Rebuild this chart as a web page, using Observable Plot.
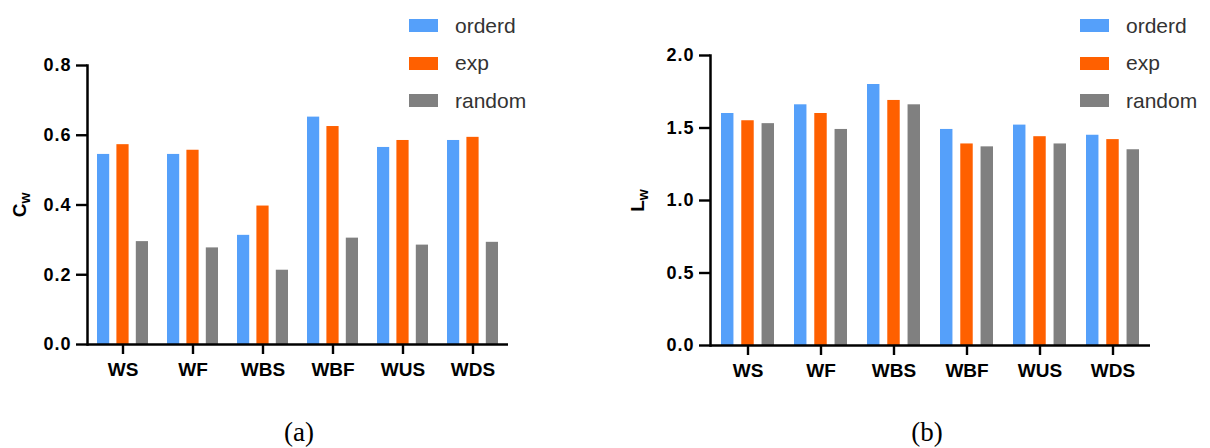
<!DOCTYPE html>
<html><head><meta charset="utf-8">
<script src="https://cdn.jsdelivr.net/npm/d3@7"></script>
<script src="https://cdn.jsdelivr.net/npm/@observablehq/plot@0.6"></script>
<style>
html,body{margin:0;padding:0;background:#fff;}
#root{position:relative;width:1210px;height:448px;overflow:hidden;font-family:"Liberation Sans",Arial,sans-serif;}
.panel{position:absolute;top:0;}
.row{position:absolute;display:flex;align-items:center;white-space:nowrap;height:26px;}
.sw{width:29px;height:13px;}
.lab{font-size:21px;color:#333;margin-left:17px;line-height:26px;}
.cap{position:absolute;font-family:"Liberation Serif","Times New Roman",serif;font-size:27px;line-height:27px;color:#000;transform:translateX(-50%);top:419px;}
.panel svg g[aria-label="y-axis tick label"] text{letter-spacing:1px;}
</style>
</head><body>
<div id="root"></div>
<script>
// ---- data ----
const categories = ["WS","WF","WBS","WBF","WUS","WDS"];
const seriesNames = ["orderd","exp","random"];
const seriesColors = ["#55a0fa","#ff6000","#808080"];
const cwOrderd = [0.545,0.545,0.313,0.652,0.565,0.585];
const cwExp    = [0.573,0.557,0.397,0.625,0.585,0.594];
const cwRandom = [0.295,0.277,0.213,0.305,0.285,0.293];
const lwOrderd = [1.60,1.66,1.80,1.49,1.52,1.45];
const lwExp    = [1.55,1.60,1.69,1.39,1.44,1.42];
const lwRandom = [1.53,1.49,1.66,1.37,1.39,1.35];
const cwTicks = [0,0.2,0.4,0.6,0.8];
const lwTicks = [0,0.5,1.0,1.5,2.0];
const captions = ["(a)","(b)"];

const root = document.getElementById("root");

function chart({values, ticks, domain, labelMain, labelSub, width, height, marginLeft, marginRight, marginTop, marginBottom, labelDx}) {
  const pad = 0.27;
  const step = (width - marginLeft - marginRight) / categories.length;
  const bw = step * (1 - pad);
  const inner = d3.scaleBand().domain(seriesNames).range([0, bw]).paddingInner(0.36);
  const bars = seriesNames.map((s, i) => {
    const data = categories.map((c, j) => ({category: c, value: values[i][j]}));
    const x0 = inner(s);
    return Plot.barY(data, {x: "category", y: "value", fill: seriesColors[i],
      insetLeft: x0, insetRight: bw - x0 - inner.bandwidth()});
  });
  const svg = Plot.plot({
    width, height, marginLeft, marginRight, marginTop, marginBottom,
    style: {fontFamily: "'Liberation Sans', Arial, sans-serif", color: "#000", background: "transparent"},
    x: {domain: categories, paddingInner: pad, paddingOuter: pad / 2, label: null},
    y: {domain, label: null},
    marks: [
      ...bars,
      Plot.axisX({tickSize: 10, tickPadding: 8, fontSize: 19, fontWeight: "bold", stroke: "#000", strokeWidth: 2.4, label: null}),
      Plot.axisY({ticks, tickFormat: d3.format(".1f"), tickSize: 11, tickPadding: 5, stroke: "#000", strokeWidth: 2.4,
        fontSize: 18, fontWeight: "bold", label: null}),
      Plot.ruleY([0], {strokeWidth: 2.5}),
      Plot.frame({anchor: "left", strokeWidth: 2.5}),
      Plot.text([labelMain + labelSub], {frameAnchor: "left", rotate: -90, dx: labelDx,
        fontSize: 19, fontWeight: "bold", textAnchor: "middle", lineAnchor: "middle"})
    ]
  });
  svg.querySelectorAll("text").forEach(t => {
    if (t.textContent === labelMain + labelSub) {
      t.textContent = labelMain;
      const ts = document.createElementNS("http://www.w3.org/2000/svg", "tspan");
      ts.setAttribute("dy", "0.35em");
      ts.setAttribute("font-size", "14");
      ts.textContent = labelSub;
      t.appendChild(ts);
    }
  });
  return svg;
}

function addPanel(left, svg) {
  const d = document.createElement("div");
  d.className = "panel";
  d.style.left = left + "px";
  d.appendChild(svg);
  root.appendChild(d);
}

function addLegend(left) {
  const centers = [25.5, 63, 100.5];
  seriesNames.forEach((s, i) => {
    const row = document.createElement("div");
    row.className = "row";
    row.style.left = left + "px";
    row.style.top = (centers[i] - 13) + "px";
    const sw = document.createElement("div");
    sw.className = "sw";
    sw.style.background = seriesColors[i];
    const lab = document.createElement("span");
    lab.className = "lab";
    lab.textContent = s;
    row.appendChild(sw); row.appendChild(lab);
    root.appendChild(row);
  });
}

function addCaption(cx, text) {
  const c = document.createElement("div");
  c.className = "cap";
  c.style.left = cx + "px";
  c.textContent = text;
  root.appendChild(c);
}

addPanel(0, chart({values: [cwOrderd, cwExp, cwRandom], ticks: cwTicks, domain: [0, 0.8],
  labelMain: "C", labelSub: "w", width: 600, height: 400,
  marginLeft: 87, marginRight: 92, marginTop: 65, marginBottom: 56, labelDx: -68}));
addPanel(605, chart({values: [lwOrderd, lwExp, lwRandom], ticks: lwTicks, domain: [0, 2],
  labelMain: "L", labelSub: "w", width: 605, height: 400,
  marginLeft: 105, marginRight: 60, marginTop: 55, marginBottom: 55, labelDx: -73}));
addLegend(409);
addLegend(1080);
addCaption(299, captions[0]);
addCaption(927, captions[1]);
</script>
</body></html>
